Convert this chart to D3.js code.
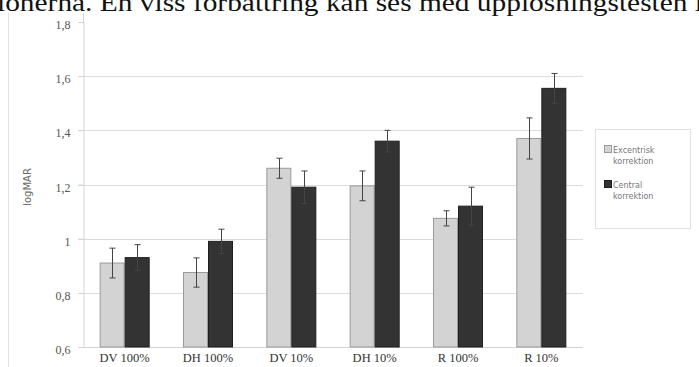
<!DOCTYPE html>
<html><head><meta charset="utf-8">
<script src="https://cdn.jsdelivr.net/npm/d3@7"></script>
<style>body{margin:0;background:#fff}svg{display:block}</style>
</head><body>
<script>
const categories = ["DV 100%", "DH 100%", "DV 10%", "DH 10%", "R 100%", "R 10%"];
const seriesNames = ["Excentrisk korrektion", "Central korrektion"];
const excentrisk = [0.91, 0.875, 1.26, 1.195, 1.075, 1.37];
const excentriskErr = [0.055, 0.054, 0.037, 0.055, 0.028, 0.076];
const central = [0.93, 0.99, 1.19, 1.36, 1.12, 1.555];
const centralErr = [0.048, 0.045, 0.06, 0.04, 0.07, 0.055];
const yTicks = [0.6, 0.8, 1, 1.2, 1.4, 1.6, 1.8];
const yTickLabels = ["0,6", "0,8", "1", "1,2", "1,4", "1,6", "1,8"];
const colors = ["#d3d3d3", "#333333"];
const strokes = ["#9a9a9a", "#1e1e1e"];

const W = 699, H = 367;
const svg = d3.select("body").append("svg").attr("width", W).attr("height", H);

// outer chart frame (left edge)
svg.append("line").attr("x1", 8.5).attr("x2", 8.5).attr("y1", 13).attr("y2", H)
  .attr("stroke", "#e2e2e2");

const pLeft = 83, pRight = 583, pTop = 22, pBottom = 347;
const x = d3.scaleBand().domain(categories).range([pLeft, pRight]).paddingInner(0.4).paddingOuter(0.2);
const y = d3.scaleLinear().domain([0.6, 1.8]).range([pBottom, pTop]);

// gridlines
svg.append("g").selectAll("line").data(yTicks.slice(1, 6)).join("line")
  .attr("x1", pLeft - 5).attr("x2", pRight).attr("y1", d => Math.round(y(d)) + 0.5).attr("y2", d => Math.round(y(d)) + 0.5)
  .attr("stroke", "#dcdcdc");

// y axis
const yAxis = d3.axisLeft(y).tickValues(yTicks).tickFormat((d, i) => yTickLabels[i]).tickSize(5).tickPadding(8);
const gy = svg.append("g").attr("transform", `translate(${pLeft + 0.5},0)`).call(yAxis);
gy.select(".domain").attr("stroke", "#d4d4d4");
gy.selectAll(".tick line").attr("stroke", "#d4d4d4");
gy.selectAll("text").attr("font-family", "Liberation Serif, serif").attr("font-size", 12).attr("fill", "#555")
  .attr("dy", "0.55em");
svg.append("line").attr("x1", pLeft + 0.5).attr("x2", pLeft + 0.5).attr("y1", 13).attr("y2", pTop).attr("stroke", "#d4d4d4");

// bottom axis line
svg.append("line").attr("x1", pLeft - 5).attr("x2", pRight).attr("y1", pBottom + 0.5).attr("y2", pBottom + 0.5).attr("stroke", "#d4d4d4");

// y label
svg.append("text").attr("transform", `translate(31,187) rotate(-90)`).attr("text-anchor", "middle")
  .attr("font-family", "DejaVu Sans, sans-serif").attr("font-size", 10).attr("fill", "#666").text("logMAR");

const x1 = d3.scaleBand().domain([0, 1]).range([0, x.bandwidth()]);
const series = [
  { vals: excentrisk, errs: excentriskErr },
  { vals: central, errs: centralErr }
];
series.forEach((s, si) => {
  const g = svg.append("g");
  g.selectAll("rect").data(categories).join("rect")
    .attr("x", (c) => x(c) + x1(si) + 0.5)
    .attr("y", (c, i) => y(s.vals[i]))
    .attr("width", x1.bandwidth() - 1)
    .attr("height", (c, i) => y(0.6) - y(s.vals[i]))
    .attr("fill", colors[si]).attr("stroke", strokes[si]).attr("stroke-width", 1);
  const eb = svg.append("g").attr("stroke", "#444").attr("stroke-width", 1);
  categories.forEach((c, i) => {
    const cx = Math.round(x(c) + x1(si) + x1.bandwidth() / 2) + 0.5;
    const yt = y(s.vals[i] + s.errs[i]), yb = y(s.vals[i] - s.errs[i]);
    eb.append("line").attr("x1", cx).attr("x2", cx).attr("y1", yt).attr("y2", yb);
    eb.append("line").attr("x1", cx - 3).attr("x2", cx + 3).attr("y1", yt).attr("y2", yt);
    eb.append("line").attr("x1", cx - 3).attr("x2", cx + 3).attr("y1", yb).attr("y2", yb);
  });
});

// category labels
svg.append("g").selectAll("text").data(categories).join("text")
  .attr("x", d => x(d) + x.bandwidth() / 2).attr("y", 362).attr("text-anchor", "middle")
  .attr("font-family", "Liberation Serif, serif").attr("font-size", 12.5).attr("fill", "#333").text(d => d);

// legend
const lg = svg.append("g");
lg.append("rect").attr("x", 595.5).attr("y", 129.5).attr("width", 95).attr("height", 99)
  .attr("fill", "#fff").attr("stroke", "#e0e0e0");
const legendLines = [["Excentrisk", "korrektion"], ["Central", "korrektion"]];
[0, 1].forEach(i => {
  const yy = 145 + i * 35;
  lg.append("rect").attr("x", 604.5).attr("y", yy + 0.5).attr("width", 7).attr("height", 7)
    .attr("fill", colors[i]).attr("stroke", strokes[i]);
  legendLines[i].forEach((t, j) => {
    lg.append("text").attr("x", 613).attr("y", yy + 8 + j * 11)
      .attr("font-family", "DejaVu Sans, sans-serif").attr("font-size", 8).attr("fill", "#777").text(t);
  });
});

// surrounding document text (clipped at top)
svg.append("text").attr("x", -3).attr("y", 10.5).attr("textLength", 706).attr("lengthAdjust", "spacingAndGlyphs")
  .attr("font-family", "Liberation Serif, serif").attr("font-size", 25).attr("fill", "#111")
  .text("ionerna. En viss förbättring kan ses med upplösningstesten i");
</script>
</body></html>
